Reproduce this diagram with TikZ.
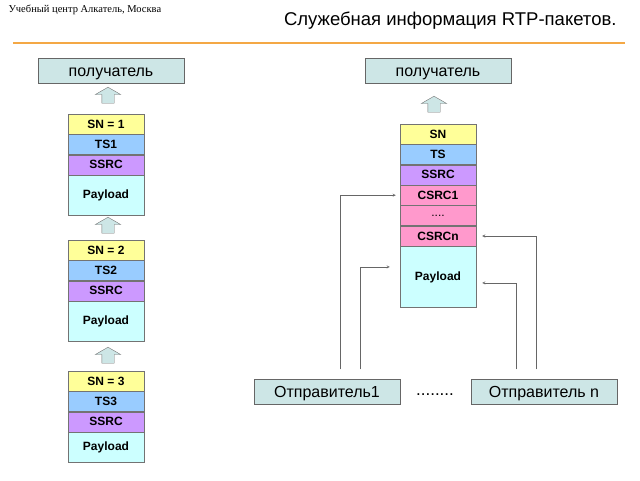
\documentclass[tikz,border=0pt]{standalone}
\usepackage{fontspec}
\setmainfont{Liberation Sans}
\newfontfamily\hdrfont{Liberation Serif}
\usepackage{tikz}
\usetikzlibrary{positioning,shapes.arrows}

\definecolor{RecvTeal}{HTML}{CDE6E6}
\definecolor{SnYellow}{HTML}{FFFF99}
\definecolor{TsBlue}{HTML}{99CCFF}
\definecolor{SsrcViolet}{HTML}{CC99FF}
\definecolor{CsrcPink}{HTML}{FF99CC}
\definecolor{LoadCyan}{HTML}{CCFFFF}
\definecolor{RuleOrange}{HTML}{F4A845}

\tikzset{
  party/.style={draw=black!60, fill=RecvTeal, minimum width=146pt,
    minimum height=25pt, inner sep=0pt, text height=10pt, text depth=0pt,
    font=\fontsize{16}{18}\selectfont},
  field/.style={draw=black!55, minimum width=76pt, minimum height=20pt,
    inner sep=0pt, font=\fontsize{12}{14}\selectfont\bfseries},
  uparrow/.style={single arrow, shape border rotate=90, draw=black!55,
    fill=RecvTeal, minimum height=16pt, minimum width=25pt, inner sep=6pt,
    single arrow head extend=6.5pt, single arrow tip angle=120},
  feed/.style={draw=black!60, ->, >=stealth}
}

\begin{document}
\begin{tikzpicture}[x=1pt, y=-1pt]
  \useasboundingbox (0, 0) rectangle (640, 480);

  % Header and title
  \node [anchor=west, font=\hdrfont\fontsize{10.5}{12}\selectfont] (hdr) at (5, 10)
    {Учебный центр Алкатель, Москва};
  \node [anchor=east, font=\fontsize{18.5}{22}\selectfont] (title) at (620, 21)
    {Служебная информация RTP-пакетов.};
  \draw [RuleOrange, line width=2pt] (13, 43) -- (625, 43);

  % Left column: receiver
  \node [party] (recvL) at (111, 71) {получатель};
  \node [uparrow] (upA) at (108, 97) {};

  % Packet 1
  \node [field, fill=SnYellow] (sn1) at (106, 124) {SN = 1};
  \node [field, fill=TsBlue, below=0pt of sn1] (ts1) {TS1};
  \node [field, fill=SsrcViolet, below=0pt of ts1] (ss1) {SSRC};
  \node [field, fill=LoadCyan, minimum height=40pt, below=0pt of ss1] (pl1) {Payload};
  \node [uparrow] (upB) at (108, 227) {};

  % Packet 2
  \node [field, fill=SnYellow] (sn2) at (106, 250) {SN = 2};
  \node [field, fill=TsBlue, below=0pt of sn2] (ts2) {TS2};
  \node [field, fill=SsrcViolet, below=0pt of ts2] (ss2) {SSRC};
  \node [field, fill=LoadCyan, minimum height=40pt, below=0pt of ss2] (pl2) {Payload};
  \node [uparrow] (upC) at (108, 357) {};

  % Packet 3
  \node [field, fill=SnYellow] (sn3) at (106, 381) {SN = 3};
  \node [field, fill=TsBlue, below=0pt of sn3] (ts3) {TS3};
  \node [field, fill=SsrcViolet, below=0pt of ts3] (ss3) {SSRC};
  \node [field, fill=LoadCyan, minimum height=30pt, below=0pt of ss3] (pl3) {Payload};

  % Right column: receiver
  \node [party] (recvR) at (438, 71) {получатель};
  \node [uparrow] (upD) at (434, 106) {};

  % Packet with contributing sources
  \node [field, fill=SnYellow] (sn) at (438, 134) {SN};
  \node [field, fill=TsBlue, below=0pt of sn] (ts) {TS};
  \node [field, fill=SsrcViolet, below=0pt of ts] (ss) {SSRC};
  \node [field, fill=CsrcPink, below=0pt of ss] (cs1) {CSRC1};
  \node [field, fill=CsrcPink, below=0pt of cs1] (csdots) {\fontseries{m}\selectfont ....};
  \node [field, fill=CsrcPink, below=0pt of csdots] (csn) {CSRCn};
  \node [field, fill=LoadCyan, minimum height=61pt, below=0pt of csn] (pl) {Payload};

  % Senders
  \node [party] (snd1) at (327, 392) {Отправитель1};
  \node [party] (sndN) at (544, 392) {Отправитель n};
  \node (gap) at (435, 395) {\fontsize{17}{18}\selectfont ........};

  % Feeds from senders into the packet
  \draw [feed, shorten >=4pt] ([xshift=13pt, yshift=10pt]snd1.north) |- (cs1.west);
  \draw [feed, shorten >=10pt] ([xshift=33pt, yshift=10pt]snd1.north) |- ([yshift=10pt]pl.west);
  \draw [feed, shorten >=6pt] ([xshift=-8pt, yshift=10pt]sndN.north) |- (csn.east);
  \draw [feed, shorten >=6pt] ([xshift=-28pt, yshift=10pt]sndN.north) |- ([yshift=-6pt]pl.east);
\end{tikzpicture}
\end{document}
